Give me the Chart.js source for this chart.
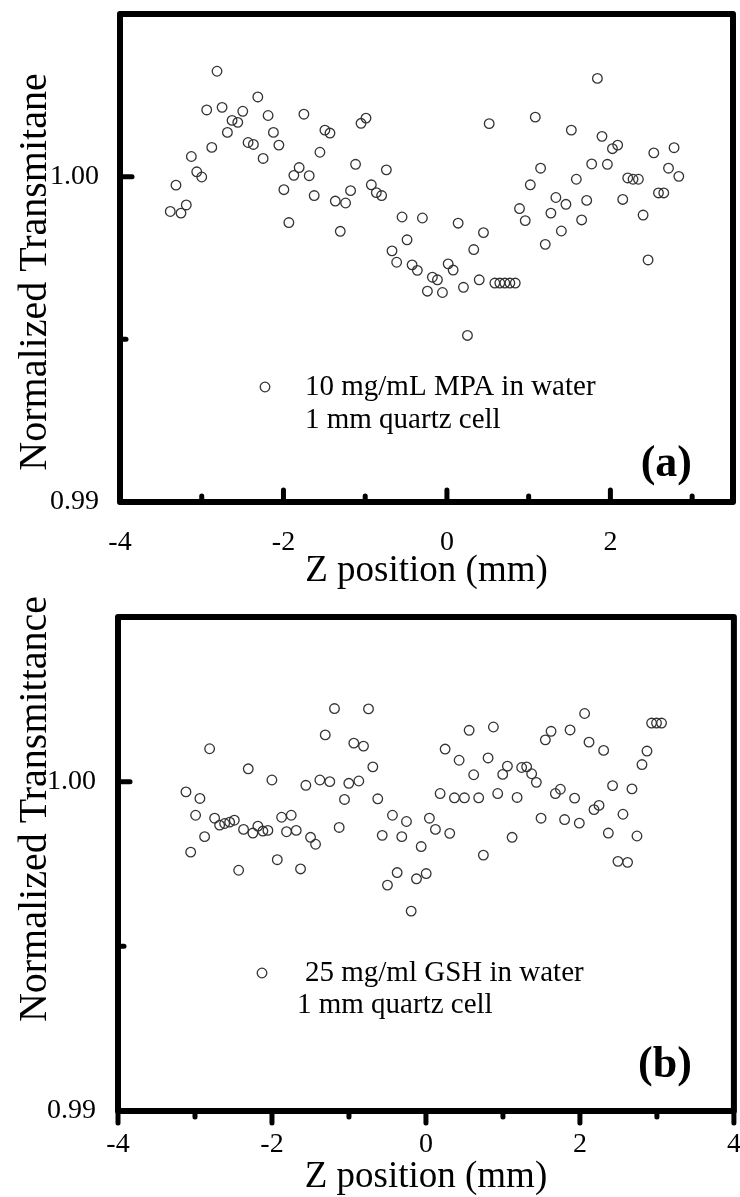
<!DOCTYPE html>
<html>
<head>
<meta charset="utf-8">
<script src="https://cdn.jsdelivr.net/npm/chart.js@4.4.1/dist/chart.umd.min.js"></script>
<style>
  html, body { margin: 0; padding: 0; background: #fff; }
  #page { position: relative; width: 740px; height: 1197px; }
  canvas { position: absolute; left: 0; }
  #chart-a { top: 0; }
  #chart-b { top: 590px; }
</style>
</head>
<body>
<div id="page">
  <canvas id="chart-a" width="740" height="590"></canvas>
  <canvas id="chart-b" width="740" height="607"></canvas>
</div>
<script>
// --- Panel (a): 10 mg/mL MPA ---
const zA = [-3.385, -3.315, -3.254, -3.189, -3.127, -3.061, -3.000, -2.939, -2.877, -2.813,
  -2.751, -2.686, -2.629, -2.559, -2.498, -2.433, -2.368, -2.314, -2.249, -2.188,
  -2.123, -2.056, -1.995, -1.934, -1.873, -1.808, -1.750, -1.685, -1.624, -1.554,
  -1.493, -1.431, -1.366, -1.305, -1.240, -1.179, -1.118, -1.051, -0.990, -0.925,
  -0.864, -0.799, -0.741, -0.672, -0.615, -0.549, -0.488, -0.426, -0.362, -0.300,
  -0.239, -0.178, -0.116, -0.055, 0.015, 0.076, 0.137, 0.202, 0.251, 0.328,
  0.395, 0.447, 0.517, 0.586, 0.647, 0.708, 0.770, 0.836, 0.888, 0.958,
  1.020, 1.081, 1.146, 1.203, 1.272, 1.333, 1.400, 1.456, 1.522, 1.583,
  1.648, 1.710, 1.771, 1.841, 1.897, 1.963, 2.025, 2.089, 2.151, 2.212,
  2.277, 2.343, 2.400, 2.461, 2.531, 2.588, 2.653, 2.711, 2.779, 2.837];
const tA = [0.99893, 0.99974, 0.99888, 0.99913, 1.00062, 1.00015, 0.99999, 1.00205, 1.00090, 1.00324,
  1.00213, 1.00136, 1.00173, 1.00167, 1.00201, 1.00105, 1.00099, 1.00245, 1.00056, 1.00188,
  1.00136, 1.00097, 0.99960, 0.99859, 1.00004, 1.00028, 1.00192, 1.00003, 0.99942, 1.00075,
  1.00143, 1.00134, 0.99925, 0.99832, 0.99919, 0.99957, 1.00038, 1.00164, 1.00180, 0.99975,
  0.99951, 0.99942, 1.00021, 0.99772, 0.99737, 0.99876, 0.99806, 0.99729, 0.99712, 0.99873,
  0.99648, 0.99691, 0.99683, 0.99644, 0.99732, 0.99713, 0.99857, 0.99660, 0.99512, 0.99776,
  0.99683, 0.99828, 1.00163, 0.99673, 0.99673, 0.99673, 0.99673, 0.99673, 0.99902, 0.99865,
  0.99975, 1.00183, 1.00026, 0.99792, 0.99888, 0.99936, 0.99833, 0.99915, 1.00143, 0.99992,
  0.99867, 0.99927, 1.00039, 1.00302, 1.00124, 1.00038, 1.00086, 1.00097, 0.99930, 0.99996,
  0.99992, 0.99992, 0.99882, 0.99744, 1.00073, 0.99950, 0.99950, 1.00026, 1.00089, 1.00001];

// --- Panel (b): 25 mg/ml GSH ---
const zB = [-3.117, -3.056, -2.992, -2.936, -2.875, -2.810, -2.745, -2.680, -2.615, -2.550,
  -2.489, -2.433, -2.369, -2.308, -2.248, -2.183, -2.118, -2.053, -2.001, -1.931,
  -1.875, -1.811, -1.750, -1.685, -1.629, -1.560, -1.499, -1.434, -1.378, -1.308,
  -1.249, -1.188, -1.127, -1.058, -1.002, -0.937, -0.872, -0.811, -0.746, -0.690,
  -0.626, -0.568, -0.500, -0.435, -0.374, -0.314, -0.253, -0.192, -0.123, -0.062,
  0.003, 0.045, 0.123, 0.184, 0.249, 0.309, 0.370, 0.431, 0.500, 0.561,
  0.620, 0.685, 0.746, 0.807, 0.876, 0.932, 0.997, 1.058, 1.119, 1.184,
  1.243, 1.308, 1.373, 1.434, 1.495, 1.551, 1.625, 1.681, 1.746, 1.801,
  1.872, 1.931, 1.992, 2.061, 2.118, 2.183, 2.248, 2.308, 2.369, 2.424,
  2.494, 2.559, 2.619, 2.676, 2.741, 2.806, 2.871, 2.931, 2.995, 3.060];
const tB = [0.99969, 0.99786, 0.99898, 0.99949, 0.99833, 1.00100, 0.99889, 0.99868, 0.99873, 0.99877,
  0.99883, 0.99731, 0.99855, 1.00039, 0.99844, 0.99865, 0.99850, 0.99852, 1.00005, 0.99763,
  0.99892, 0.99848, 0.99898, 0.99852, 0.99735, 0.99989, 0.99831, 0.99810, 1.00005, 1.00142,
  1.00000, 1.00222, 0.99861, 0.99946, 0.99995, 1.00117, 1.00002, 1.00108, 1.00221, 1.00045,
  0.99948, 0.99837, 0.99686, 0.99898, 0.99724, 0.99833, 0.99879, 0.99607, 0.99705, 0.99803,
  0.99721, 0.99889, 0.99855, 0.99964, 1.00099, 0.99843, 0.99951, 1.00065, 0.99951, 1.00156,
  1.00021, 0.99951, 0.99777, 1.00072, 1.00166, 0.99964, 1.00022, 1.00047, 0.99831, 0.99952,
  1.00043, 1.00045, 1.00024, 0.99998, 0.99889, 1.00127, 1.00153, 0.99964, 0.99977, 0.99885,
  1.00157, 0.99950, 0.99874, 1.00207, 1.00120, 0.99915, 0.99928, 1.00095, 0.99844, 0.99988,
  0.99758, 0.99901, 0.99755, 0.99978, 0.99835, 1.00052, 1.00093, 1.00178, 1.00178, 1.00178];

// labelled ticks
const xLabelsA = [-4, -2, 0, 2];
const xLabelsB = [-4, -2, 0, 2, 4];
const yLabels = [0.99, 1.00];

const SERIF = '"Liberation Serif", "Times New Roman", serif';
const POINT_COLOR = '#333';

// thick box, tick stubs, rotated y title, in-plot legend and panel tag
const framePlugin = {
  id: 'frame',
  afterDatasetsDraw(chart, args, opts) {
    const { ctx, chartArea: a, scales: { x, y } } = chart;
    ctx.save();
    ctx.strokeStyle = '#000';
    ctx.lineCap = 'round';
    ctx.lineJoin = 'round';

    ctx.lineWidth = 5;
    const dir = opts.xTicksOut ? 1 : -1;
    x.ticks.forEach(t => {
      const px = x.getPixelForValue(t.value);
      const len = t.label !== '' ? 12 : 6;
      ctx.beginPath();
      ctx.moveTo(px, a.bottom);
      ctx.lineTo(px, a.bottom + dir * len);
      ctx.stroke();
    });
    y.ticks.forEach(t => {
      const py = y.getPixelForValue(t.value);
      const len = t.label !== '' ? 12 : 6;
      ctx.beginPath();
      ctx.moveTo(a.left, py);
      ctx.lineTo(a.left + len, py);
      ctx.stroke();
    });

    ctx.lineWidth = 6;
    ctx.strokeRect(a.left, a.top, a.right - a.left, a.bottom - a.top);

    // y title, shifted along the axis
    const T = opts.yTitle;
    ctx.save();
    ctx.translate(T.x, (a.top + a.bottom) / 2 + T.shift);
    ctx.rotate(-Math.PI / 2);
    ctx.fillStyle = '#000';
    ctx.font = '40px ' + SERIF;
    ctx.textAlign = 'center';
    ctx.textBaseline = 'middle';
    ctx.fillText(T.text, 0, 0);
    ctx.restore();

    const L = opts.legend;
    const ds = chart.data.datasets[0];
    const my = a.top + L.dy;
    ctx.lineWidth = ds.pointBorderWidth;
    ctx.strokeStyle = ds.borderColor;
    ctx.beginPath();
    ctx.arc(a.left + L.dx, my, ds.pointRadius, 0, Math.PI * 2);
    ctx.stroke();
    ctx.fillStyle = '#000';
    ctx.font = '29px ' + SERIF;
    ctx.textBaseline = 'middle';
    ctx.textAlign = 'left';
    ctx.fillText(ds.label, a.left + L.textDx, my);
    ctx.fillText(L.note, a.left + L.noteDx, my + L.noteDy);

    ctx.font = 'bold 44px ' + SERIF;
    ctx.textAlign = 'right';
    ctx.fillText(opts.tag.text, a.right - opts.tag.dx, a.bottom - opts.tag.dy);
    ctx.restore();
  }
};

function near(list, v) {
  return list.some(d => Math.abs(d - v) < 1e-6);
}

function makePanel(id, cfg) {
  const canvas = document.getElementById(id);
  return new Chart(canvas, {
    type: 'scatter',
    data: {
      datasets: [{
        label: cfg.label,
        data: cfg.z.map((z, i) => ({ x: z, y: cfg.t[i] })),
        pointStyle: 'circle',
        pointRadius: 4.8,
        pointBorderWidth: 1.3,
        borderColor: POINT_COLOR,
        backgroundColor: 'rgba(0,0,0,0)',
      }]
    },
    options: {
      responsive: false,
      devicePixelRatio: 1,
      animation: false,
      events: [],
      layout: { padding: { top: cfg.top, right: 740 - cfg.right, left: 0, bottom: 0 } },
      plugins: {
        legend: { display: false },
        tooltip: { enabled: false },
        frame: { xTicksOut: cfg.xTicksOut, yTitle: cfg.yTitle, legend: cfg.legend, tag: cfg.tag },
      },
      scales: {
        x: {
          type: 'linear',
          min: -4,
          max: cfg.xMax,
          grid: { display: false },
          border: { display: false },
          ticks: {
            stepSize: 1,
            includeBounds: false,
            autoSkip: false,
            maxRotation: 0,
            padding: cfg.xTickPad,
            color: '#000',
            font: { family: SERIF, size: 28 },
            callback: v => near(cfg.xLabels, v) ? String(v) : '',
          },
          title: {
            display: true,
            text: 'Z position (mm)',
            color: '#000',
            font: { family: SERIF, size: 37, lineHeight: 1 },
            padding: { top: 0, bottom: cfg.xTitlePad },
          },
          afterFit: s => {
            s.height = canvas.height - cfg.bottom;
            s.paddingLeft = 0;
            s.paddingRight = 0;
          },
        },
        y: {
          type: 'linear',
          min: 0.99,
          max: 1.005,
          grid: { display: false },
          border: { display: false },
          ticks: {
            stepSize: 0.005,
            autoSkip: false,
            padding: cfg.yTickPad,
            color: '#000',
            font: { family: SERIF, size: 28 },
            callback: v => near(yLabels, v) ? v.toFixed(2) : '',
          },
          afterFit: s => {
            s.width = cfg.left;
            s.paddingTop = 0;
            s.paddingBottom = 0;
          },
        },
      },
    },
    plugins: [framePlugin],
  });
}

makePanel('chart-a', {
  label: '10 mg/mL MPA in water',
  z: zA, t: tA,
  xMax: 3.5, xLabels: xLabelsA, xTicksOut: false,
  left: 120, right: 733, top: 14, bottom: 502,
  xTickPad: 16, yTickPad: 13, xTitlePad: 0,
  yTitle: { text: 'Normalized Transmitane', x: 35, shift: 14 },
  legend: { dx: 145, dy: 373, textDx: 185, note: '1 mm quartz cell', noteDx: 185, noteDy: 33 },
  tag: { text: '(a)', dx: 41, dy: 37 },
});

makePanel('chart-b', {
  label: '25 mg/ml GSH in water',
  z: zB, t: tB,
  xMax: 4, xLabels: xLabelsB, xTicksOut: true,
  left: 118, right: 734, top: 27, bottom: 521,
  xTickPad: 9, yTickPad: 14, xTitlePad: 1,
  yTitle: { text: 'Normalized Transmittance', x: 35, shift: -55 },
  legend: { dx: 144, dy: 356, textDx: 187, note: '1 mm quartz cell', noteDx: 179, noteDy: 32 },
  tag: { text: '(b)', dx: 42, dy: 45 },
});
</script>
</body>
</html>
